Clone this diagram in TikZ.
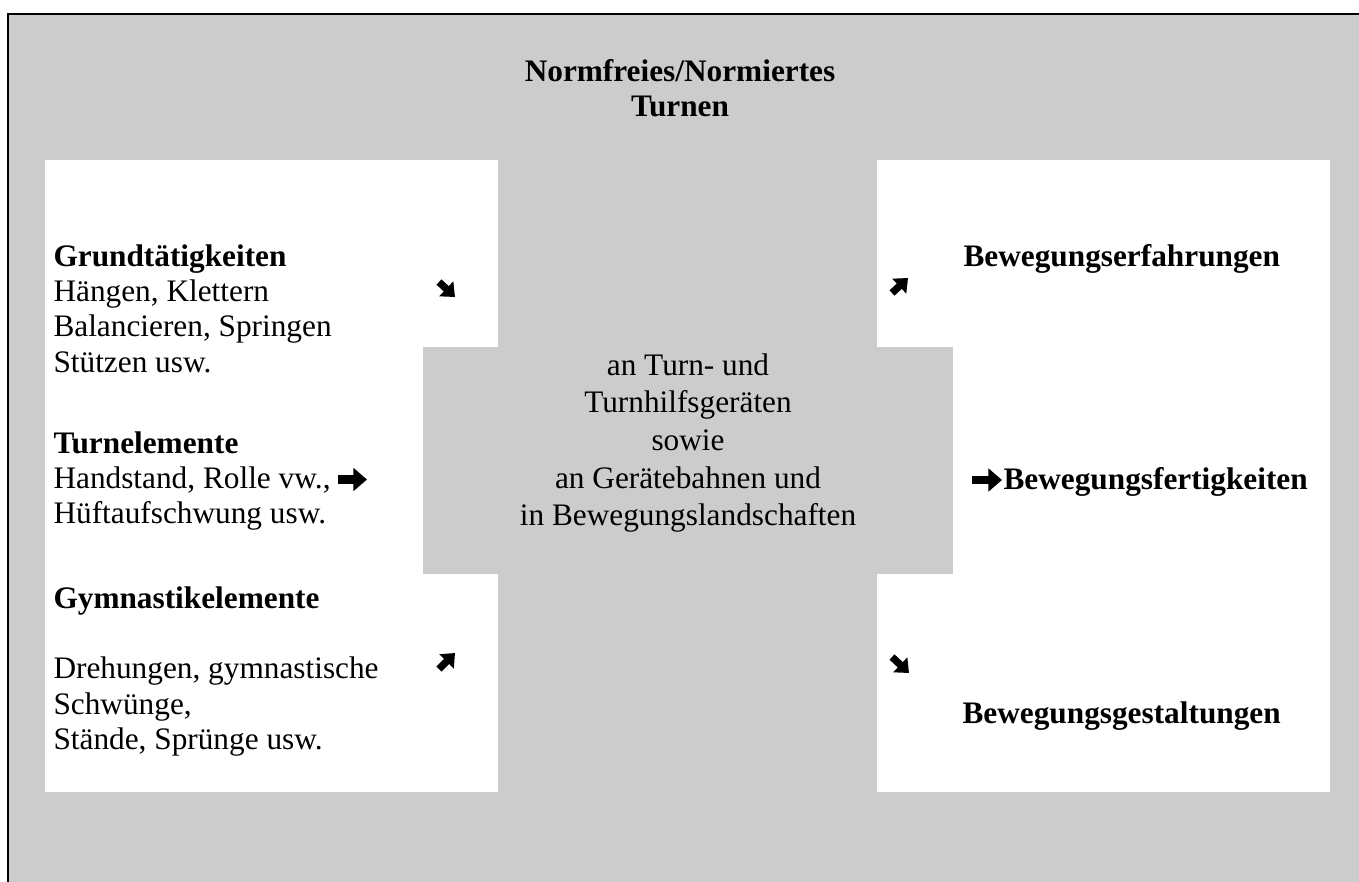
\documentclass[tikz,border=0pt]{standalone}
\usepackage{fontspec}
\setmainfont{Liberation Serif}
\usetikzlibrary{arrows.meta}

\definecolor{boxgray}{HTML}{CCCCCC}

\begin{document}
\begin{tikzpicture}[
                    x = 0.3834pt, y = -0.3834pt,
                    txt/.style   = {inner sep = 0, align = left, font = \fontsize{12}{13.55}\selectfont},
                    head/.style  = {txt, font = \fontsize{12}{13.55}\selectfont\bfseries},
                    mid/.style   = {inner sep = 0, align = center, font = \fontsize{12}{14.4}\selectfont},
                    heavy/.style = {line width = 3.1pt, -{Triangle[length = 5.2pt 0 0, width = 8.6pt 0 0]}},
                    slant/.style = {line width = 2.8pt, -{Triangle[length = 4.6pt 0 0, width = 7.6pt 0 0]}}]
    \useasboundingbox (0,0) rectangle (1359,881);
    \clip (0,0) rectangle (1359,881);
    % background and panels
    \fill[boxgray] (8,14) rectangle (1400,920);
    \draw[line width = 0.9pt] (8.3,14.3) rectangle (1400,920);
    \fill[white] (45,160) rectangle (498,792);
    \fill[white] (877,160) rectangle (1330,792);
    \fill[boxgray] (423,347) rectangle (953,574);
    % texts
    \node[head, align = center] (title) at (680,88) {Normfreies/Normiertes\\Turnen};
    \node[txt, anchor = north west] (grund) at (53,244)
        {\textbf{Grundtätigkeiten}\\Hängen, Klettern\\Balancieren, Springen\\Stützen usw.};
    \node[txt, anchor = north west] (turn) at (53,431)
        {\textbf{Turnelemente}\\Handstand, Rolle vw.,\\Hüftaufschwung usw.};
    \node[txt, anchor = north west] (gym) at (53,586)
        {\textbf{Gymnastikelemente}\\[13.55pt]Drehungen, gymnastische\\Schwünge,\\Stände, Sprünge usw.};
    \node[mid] (geraete) at (688,443)
        {an Turn- und\\Turnhilfsgeräten\\sowie\\an Gerätebahnen und\\in Bewegungslandschaften};
    \node[head, anchor = north west] (erfahr) at (963,244) {Bewegungserfahrungen};
    \node[head, anchor = north west] (fertig) at (1003,467) {Bewegungsfertigkeiten};
    \node[head, anchor = north west] (gestalt) at (962,701) {Bewegungsgestaltungen};
    % arrows
    \coordinate (g1) at (439,282);  \coordinate (g2) at (455,297);
    \coordinate (e1) at (892,293);  \coordinate (e2) at (908,278);
    \coordinate (y1) at (439,669);  \coordinate (y2) at (455,653);
    \coordinate (s1) at (892,657);  \coordinate (s2) at (909,673);
    \coordinate (t1) at (338,479.5); \coordinate (t2) at (367,479.5);
    \coordinate (f1) at (972,480);  \coordinate (f2) at (1002,480);
    \draw[slant] (g1) -- (g2);
    \draw[slant] (e1) -- (e2);
    \draw[slant] (y1) -- (y2);
    \draw[slant] (s1) -- (s2);
    \draw[heavy] (t1) -- (t2);
    \draw[heavy] (f1) -- (f2);
\end{tikzpicture}
\end{document}
